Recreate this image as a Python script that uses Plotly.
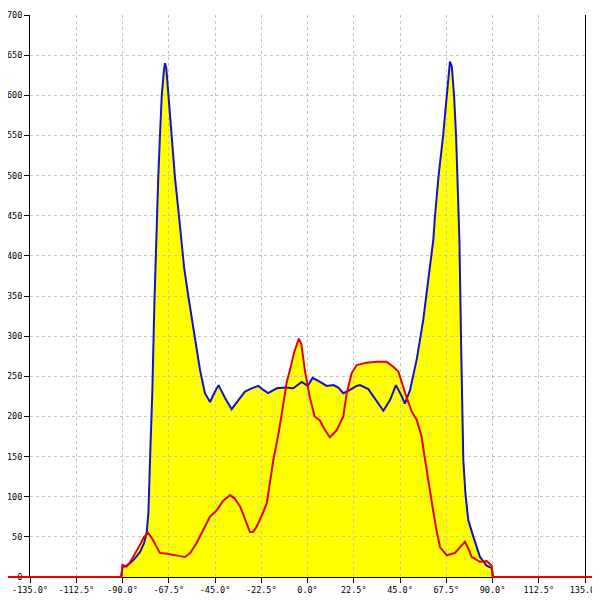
import plotly.graph_objects as go

# ---------------- data ----------------
angle_blue = [-180, -90.6, -90, -88.8, -86.5, -84.7, -81.5, -79.5, -78.2, -77.4, -76.6, -75.5,
              -74.5, -73.7, -73.4, -72.6, -71.8, -70.9, -69.8, -69.3, -68.7, -67.7, -66.1, -64.5,
              -62.5, -61.5, -60, -58, -56.2, -54, -52.3, -49.9, -47.4, -45.8, -43.3, -40.1,
              -36.9, -33.7, -30.4, -27.2, -23.9, -21.5, -19.1, -15, -11, -6.9, -2.8, 0.1,
              2.5, 6.1, 9.3, 12.6, 15, 17.4, 20.7, 23.9, 25.5, 29.6, 33.7, 36.9, 40.1, 43,
              45.5, 47.4, 49.9, 53.2, 56.3, 58.8, 61.2, 62, 63.7, 65.9, 67.7, 68.8, 69.3, 70.2,
              71.3, 72.3, 72.9, 73.6, 73.9, 74.8, 75.8, 76.8, 78.2, 80.7, 83.9, 87.2, 89.6, 90.2,
              180]
blue = [0, 0, 13, 13, 17, 21, 31, 42, 56, 80, 146, 230,
        340, 420, 449, 498, 548, 600, 632, 640, 634, 600, 548, 498,
        449, 420, 385, 350, 320, 285, 258, 229, 218, 227, 239, 223,
        209, 220, 231, 235, 238, 233, 229, 235, 236, 235, 243, 238,
        248, 243, 238, 239, 236, 229, 233, 238, 239, 234, 218, 207, 220, 239,
        227, 216, 233, 272, 320, 375, 420, 449, 498, 548, 600, 632, 642, 636,
        600, 548, 498, 449, 420, 280, 146, 105, 71, 50, 25, 14, 11, 0,
        0]

angle_red = [-180, -90.6, -90, -88, -86.4, -84, -81.5, -79.5, -77.6, -75.6, -73.7, -71.8,
             -68.3, -65.3, -62, -59.6, -57, -54, -51, -47.5, -44.2, -41, -37.7, -35.5,
             -32.8, -30.5, -28, -26.5, -24.7, -22, -19.8, -16.6, -14, -12, -10.1, -8.5,
             -6.5, -4.2, -3, -1.3, 1.1, 3.5, 6, 8.5, 10.9, 14.2, 17.4, 19.1, 21.5, 23.9,
             28.8, 33.7, 38.5, 41.7, 44.2, 48.3, 50.7, 53.1, 55.5, 57.2, 59, 61.1, 63, 64.5,
             67.8, 71.8, 74.5, 76.6, 78.5, 79.8, 83.9, 87.2, 89.6, 90.2, 180]
red = [0, 0, 15, 13, 18, 28, 40, 50, 55, 48, 38, 30,
       29, 28, 26, 25, 30, 42, 58, 75, 83, 95, 102, 98,
       88, 72, 56, 56, 63, 78, 92, 146, 180, 212, 243, 258,
       280, 297, 290, 258, 224, 200, 195, 183, 174, 183, 200, 229, 254, 264,
       267, 268, 268, 262, 256, 223, 206, 196, 175, 146, 115, 83, 55, 37,
       27, 30, 38, 44, 34, 25, 19, 20, 14, 0, 0]

x_ticks = [-135, -112.5, -90, -67.5, -45, -22.5, 0, 22.5, 45, 67.5, 90, 112.5, 135]
x_tick_labels = [f"{t:.1f}°" for t in x_ticks]
y_ticks = list(range(0, 701, 50))
y_tick_labels = [str(v) for v in y_ticks]

# ---------------- layout geometry ----------------
# (page body adds an 8 px offset, so figure pixel = screen pixel - 8)
W, H = 600, 600
MT, MB = 7, 21
plot_h = H - MT - MB
ax_l_px, ax_r_px = 22, 577          # inner (axes) area, figure pixels
ax_b_px = 10                        # inner area bottom above plot-area bottom
x_lo, x_hi = -135, 135
y_lo, y_hi = 0, 700

px_per_x = (ax_r_px - ax_l_px) / (x_hi - x_lo)
full_x_range = [x_lo - ax_l_px / px_per_x, x_hi + (W - ax_r_px) / px_per_x]
px_per_y = (plot_h - ax_b_px) / (y_hi - y_lo)
full_y_range = [y_lo - ax_b_px / px_per_y, y_hi]

YELLOW = "#ffff00"
BLUE = "#1212cc"
RED = "#e60000"

fig = go.Figure()

# subplot 1 (x/y): yellow fills (full width mapping)
fig.add_trace(go.Scatter(x=angle_blue, y=blue, mode="lines", line=dict(width=0, color=YELLOW),
                         fill="tozeroy", fillcolor=YELLOW, xaxis="x", yaxis="y", hoverinfo="skip"))
fig.add_trace(go.Scatter(x=angle_red, y=red, mode="lines", line=dict(width=0, color=YELLOW),
                         fill="tozeroy", fillcolor=YELLOW, xaxis="x", yaxis="y", hoverinfo="skip"))

# subplot 2 (x2/y2): grid, ticks and axis lines only
fig.add_trace(go.Scatter(x=[0], y=[0], mode="markers", marker=dict(size=0.1, opacity=0),
                         xaxis="x2", yaxis="y2", hoverinfo="skip"))

# subplot 3 (x3/y3): the lines on top
fig.add_trace(go.Scatter(x=angle_blue, y=blue, mode="lines", line=dict(width=2, color=BLUE),
                         xaxis="x3", yaxis="y3"))
fig.add_trace(go.Scatter(x=angle_red, y=red, mode="lines", line=dict(width=2, color=RED),
                         xaxis="x3", yaxis="y3"))

tick_font = dict(family="DejaVu Sans Mono", size=8.5, color="black")
hidden = dict(visible=False, showgrid=False, zeroline=False, fixedrange=True, automargin=False)

fig.update_layout(
    width=W, height=H,
    margin=dict(l=0, r=0, t=MT, b=MB, pad=0, autoexpand=False),
    paper_bgcolor="white", plot_bgcolor="rgba(0,0,0,0)",
    showlegend=False,
    xaxis=dict(domain=[0, 1], range=full_x_range, anchor="y", **hidden),
    yaxis=dict(domain=[0, 1], range=full_y_range, anchor="x", **hidden),
    xaxis3=dict(domain=[0, 1], range=full_x_range, anchor="y3", **hidden),
    yaxis3=dict(domain=[0, 1], range=full_y_range, anchor="x3", **hidden),
    xaxis2=dict(domain=[ax_l_px / W, ax_r_px / W], range=[x_lo, x_hi], anchor="y2",
                tickmode="array", tickvals=x_ticks, ticktext=x_tick_labels,
                showgrid=True, gridcolor="#c4c4c4", gridwidth=1, griddash="3px,3px",
                zeroline=False, showline=True, linecolor="black", linewidth=1,
                ticks="outside", ticklen=5, tickcolor="black", tickwidth=1,
                tickfont=tick_font, mirror=False, fixedrange=True, automargin=False),
    yaxis2=dict(domain=[ax_b_px / plot_h, 1], range=[y_lo, y_hi], anchor="x2",
                tickmode="array", tickvals=y_ticks, ticktext=y_tick_labels,
                showgrid=True, gridcolor="#c4c4c4", gridwidth=1, griddash="3px,3px",
                zeroline=False, showline=True, linecolor="black", linewidth=1,
                ticks="outside", ticklen=5, tickcolor="black", tickwidth=1,
                tickfont=tick_font, mirror=True, fixedrange=True, automargin=False),
)

fig.write_html("out.html")
